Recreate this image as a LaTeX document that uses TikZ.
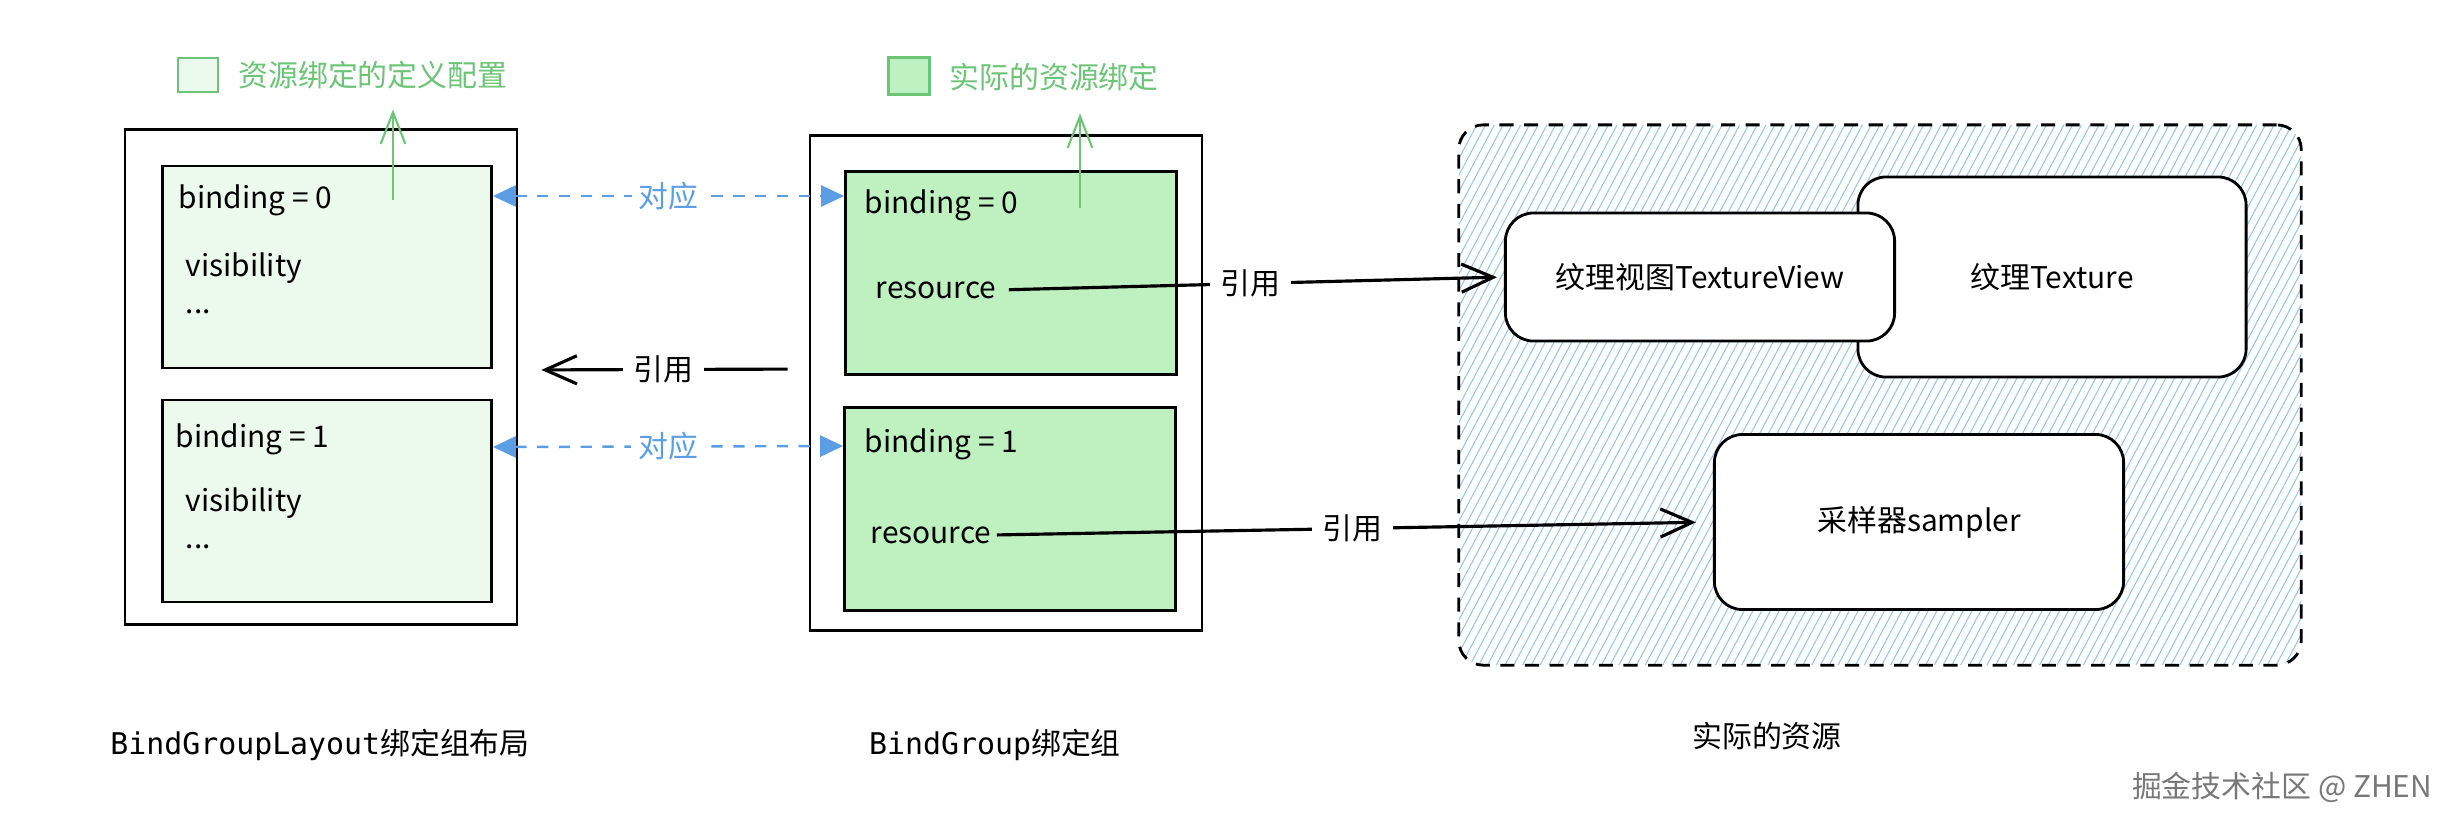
\documentclass[tikz,border=0pt]{standalone}
\usepackage{fontspec}
\setmainfont{Noto Sans CJK SC}
\setmonofont{DejaVu Sans Mono}
\usetikzlibrary{arrows.meta,patterns.meta}

\definecolor{defgreen}{RGB}{235,250,236}
\definecolor{grpgreen}{RGB}{190,240,192}
\definecolor{leggreen}{RGB}{108,196,118}
\definecolor{corrblue}{RGB}{92,158,228}
\definecolor{hatchblue}{RGB}{150,195,240}
\definecolor{markgray}{RGB}{120,120,120}

\tikzset{
  outerbox/.style={draw,line width=0.7pt,fill=white,minimum width=3.92cm,minimum height=4.95cm},
  defbox/.style={draw,line width=0.8pt,fill=defgreen,minimum width=3.29cm,minimum height=2.02cm},
  grpbox/.style={draw,line width=0.8pt,fill=grpgreen,minimum width=3.31cm,minimum height=2.03cm},
  resbox/.style={draw,line width=0.8pt,fill=white,rounded corners=8pt},
  field/.style={anchor=west,inner sep=0pt},
  refarrow/.style={line width=0.9pt,-{Straight Barb[length=9pt,width=8pt]}},
  refl/.style={fill=white,inner sep=3pt},
  corr/.style={corrblue,line width=0.7pt,dash pattern=on 3.2pt off 3pt,{Triangle[length=6.5pt,width=6pt]}-{Triangle[length=6.5pt,width=6pt]}},
  corrl/.style={fill=white,text=corrblue,inner sep=2pt},
  legarrow/.style={leggreen,line width=0.6pt,-{Straight Barb[length=9pt,width=7pt]}},
}

\begin{document}
\begin{tikzpicture}[x=0.01cm,y=-0.01cm,font=\fontsize{8.5}{10}\selectfont]
  \useasboundingbox (0,0) rectangle (2454,826);

  % legend
  \node[draw=leggreen,line width=0.6pt,fill=defgreen,minimum width=0.40cm,minimum height=0.34cm] (legsq1) at (198,75) {};
  \node[anchor=west,text=leggreen] (legdef) at (226,75) {资源绑定的定义配置};
  \node[draw=leggreen,line width=0.6pt,fill=grpgreen,minimum width=0.41cm,minimum height=0.37cm] (legsq2) at (909,76) {};
  \node[anchor=west,text=leggreen] (leggrp) at (937,77) {实际的资源绑定};

  % BindGroupLayout
  \node[outerbox] (lout) at (321,377) {};
  \node[defbox] (lb0) at (327,267) {};
  \node[defbox] (lb1) at (327,501) {};
  \node[field] (lbind0) at (178,200) {binding = 0};
  \node[field] (lvis0) at (185,268) {visibility};
  \node[field] (ldots0) at (185,312) {...};
  \node[field] (lbind1) at (175,439) {binding = 1};
  \node[field] (lvis1) at (185,503) {visibility};
  \node[field] (ldots1) at (185,547) {...};

  % BindGroup
  \node[outerbox] (mout) at (1006,383) {};
  \node[grpbox] (mb0) at (1011,273) {};
  \node[grpbox] (mb1) at (1010,509) {};
  \node[field] (mbind0) at (864,205) {binding = 0};
  \node[field] (mres0) at (875,290) {resource};
  \node[field] (mbind1) at (864,444) {binding = 1};
  \node[field] (mres1) at (870,535) {resource};

  % resources
  \node[draw,line width=0.8pt,dash pattern=on 4pt off 3pt,rounded corners=7pt,
    pattern={Lines[angle=62,distance=2.2pt,line width=0.3pt]},pattern color=hatchblue,
    minimum width=8.42cm,minimum height=5.40cm] (resgrp) at (1880,395) {};
  \node[resbox,minimum width=3.88cm,minimum height=2.00cm] (tex) at (2052,277) {};
  \node at (2052,277) (texl) {纹理Texture};
  \node[resbox,minimum width=3.89cm,minimum height=1.28cm] (tview) at (1700,277) {纹理视图TextureView};
  \node[resbox,minimum width=4.09cm,minimum height=1.75cm] (smp) at (1919,522) {采样器sampler};

  % connectors
  \coordinate (lsrc) at (393,200);
  \coordinate (msrc) at (1080,208);
  \draw[legarrow] (lsrc) -- ([yshift=-0.08cm]lsrc |- legdef.south);
  \draw[legarrow] (msrc) -- ([yshift=-0.10cm]msrc |- leggrp.south);
  \draw[corr] (lb0.east |- 0,196) -- node[corrl] {对应} (mb0.west |- 0,196);
  \draw[corr] (lb1.east |- 0,447) -- node[corrl] {对应} (mb1.west |- 0,446);
  \draw[refarrow,shorten <=0.21cm,shorten >=0.23cm] ([yshift=0.14cm]mout.west) -- node[refl] {引用} ([yshift=0.07cm]lout.east);
  \draw[refarrow,shorten <=0.12cm,shorten >=0.07cm] (mres0.east) -- node[refl] {引用} (tview.west);
  \draw[refarrow,shorten <=0.05cm,shorten >=0.17cm] (mres1.east) -- node[refl] {引用} (smp.west);

  % captions
  \node (capl) at (320,745) {\texttt{BindGroupLayout}绑定组布局};
  \node (capm) at (995,745) {\texttt{BindGroup}绑定组};
  \node (capr) at (1767,736) {实际的资源};
  \node[text=markgray] (mark) at (2282,787) {掘金技术社区 @ ZHEN};
\end{tikzpicture}
\end{document}
